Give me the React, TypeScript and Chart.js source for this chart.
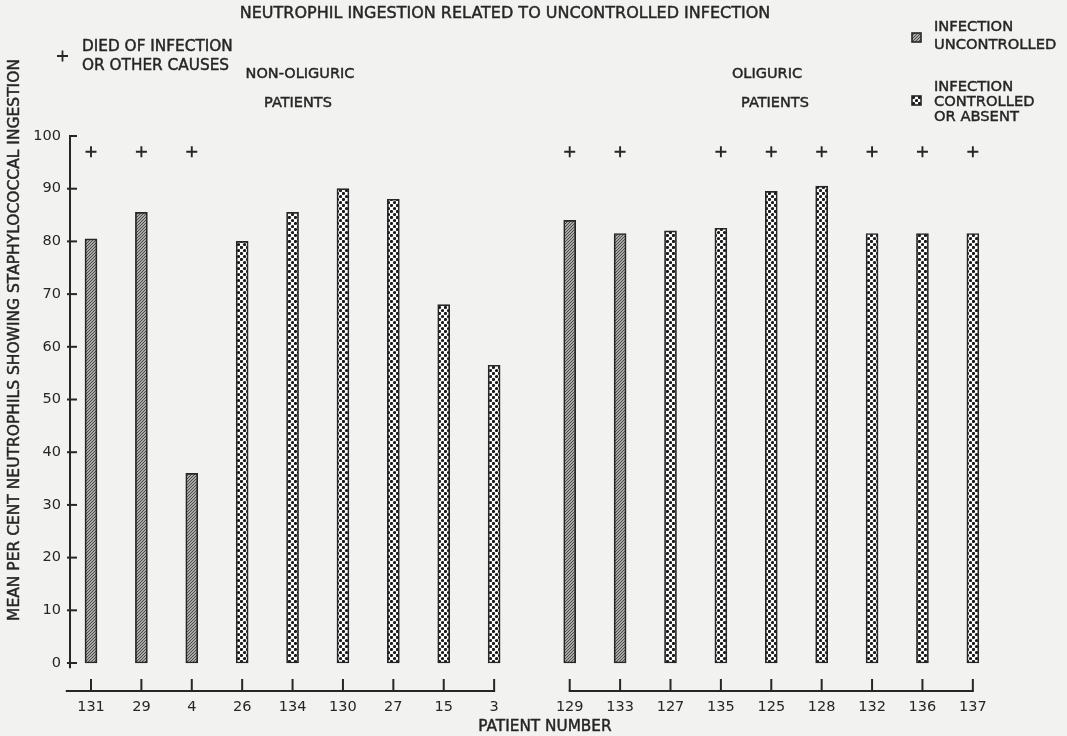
import { useEffect, useRef } from 'react';
import { Chart, registerables } from 'chart.js';

Chart.register(...registerables);

// ---- data ----
const nonOliguricPatients = ['131', '29', '4', '26', '134', '130', '27', '15', '3'];
const nonOliguricValues = [80.5, 85.5, 36, 80, 85.5, 90, 88, 68, 56.5];
const nonOliguricUncontrolled = [true, true, true, false, false, false, false, false, false];
const nonOliguricDied = [true, true, true, false, false, false, false, false, false];

const oliguricPatients = ['129', '133', '127', '135', '125', '128', '132', '136', '137'];
const oliguricValues = [84, 81.5, 82, 82.5, 89.5, 90.5, 81.5, 81.5, 81.5];
const oliguricUncontrolled = [true, true, false, false, false, false, false, false, false];
const oliguricDied = [true, true, false, true, true, true, true, true, true];

const diedMarkerValue = 97;
const yTickValues = [0, 10, 20, 30, 40, 50, 60, 70, 80, 90, 100];

const titleText = 'NEUTROPHIL INGESTION RELATED TO UNCONTROLLED INFECTION';
const yTitle = 'MEAN PER CENT NEUTROPHILS SHOWING STAPHYLOCOCCAL INGESTION';
const xTitle = 'PATIENT NUMBER';

const INK = '#262626';
const PAPER = '#f2f2f0';
const FONT = '"DejaVu Sans", sans-serif';

export default function App() {
  const ref = useRef<HTMLCanvasElement | null>(null);

  useEffect(() => {
    const canvas = ref.current;
    if (!canvas) return;
    const ctx0 = canvas.getContext('2d')!;

    const makeHatch = () => {
      const c = document.createElement('canvas');
      c.width = 3;
      c.height = 3;
      const g = c.getContext('2d')!;
      g.fillStyle = '#a9a9a7';
      g.fillRect(0, 0, 3, 3);
      g.strokeStyle = '#404040';
      g.lineWidth = 0.9;
      g.beginPath();
      g.moveTo(-1, 4);
      g.lineTo(4, -1);
      g.moveTo(2, 4);
      g.lineTo(4, 2);
      g.moveTo(-1, 1);
      g.lineTo(1, -1);
      g.stroke();
      return ctx0.createPattern(c, 'repeat')!;
    };
    const makeDots = () => {
      const c = document.createElement('canvas');
      c.width = 6;
      c.height = 6;
      const g = c.getContext('2d')!;
      g.fillStyle = '#ffffff';
      g.fillRect(0, 0, 6, 6);
      g.fillStyle = '#1a1a1a';
      g.beginPath();
      g.arc(1.5, 1.5, 1.6, 0, Math.PI * 2);
      g.fill();
      g.beginPath();
      g.arc(4.5, 4.5, 1.6, 0, Math.PI * 2);
      g.fill();
      return ctx0.createPattern(c, 'repeat')!;
    };
    const hatch = makeHatch();
    const dots = makeDots();

    const gap = 0.5;
    const patients = [...nonOliguricPatients, ...oliguricPatients];
    const positions = [
      ...nonOliguricPatients.map((_, i) => i),
      ...oliguricPatients.map((_, i) => nonOliguricPatients.length + gap + i),
    ];
    const values = [...nonOliguricValues, ...oliguricValues];
    const uncontrolled = [...nonOliguricUncontrolled, ...oliguricUncontrolled];
    const died = [...nonOliguricDied, ...oliguricDied];

    const barData = positions.map((p, i) => ({ x: p, y: values[i] }));
    const deathData = positions
      .map((p, i) => (died[i] ? { x: p, y: diedMarkerValue } : null))
      .filter(Boolean) as { x: number; y: number }[];

    const leftFirst = positions[0];
    const leftLast = positions[nonOliguricPatients.length - 1];
    const rightFirst = positions[nonOliguricPatients.length];
    const rightLast = positions[positions.length - 1];

    const text = (c: CanvasRenderingContext2D, s: string, x: number, y: number) => {
      c.fillText(s, x, y);
      c.strokeText(s, x, y);
    };

    const decor = {
      id: 'decor',
      beforeDraw(chart: any) {
        const c = chart.ctx;
        c.save();
        c.fillStyle = PAPER;
        c.fillRect(0, 0, chart.width, chart.height);
        c.restore();
      },
      afterDraw(chart: any) {
        const c: CanvasRenderingContext2D = chart.ctx;
        const x = chart.scales.x;
        const y = chart.scales.y;
        const area = chart.chartArea;
        c.save();
        c.strokeStyle = INK;
        c.fillStyle = INK;
        c.lineWidth = 2;
        c.lineCap = 'butt';

        // y axis line and ticks
        const ax = area.left;
        c.beginPath();
        c.moveTo(ax, y.getPixelForValue(100) - 1);
        c.lineTo(ax, y.getPixelForValue(-1));
        c.stroke();
        yTickValues.forEach((v) => {
          const py = y.getPixelForValue(v);
          c.beginPath();
          c.moveTo(v === 100 ? ax - 1 : ax - 3, py);
          c.lineTo(ax + 7, py);
          c.stroke();
        });

        // x axis segments and ticks
        const base = area.bottom - 1;
        c.beginPath();
        c.moveTo(x.getPixelForValue(leftFirst - 0.5), base);
        c.lineTo(x.getPixelForValue(leftLast) + 1, base);
        c.moveTo(x.getPixelForValue(rightFirst) - 1, base);
        c.lineTo(x.getPixelForValue(rightLast) + 1, base);
        c.stroke();
        positions.forEach((p) => {
          const px = x.getPixelForValue(p);
          c.beginPath();
          c.moveTo(px, base - 12);
          c.lineTo(px, base);
          c.stroke();
        });

        // texts
        c.lineWidth = 0.45;
        c.textBaseline = 'middle';
        c.textAlign = 'center';
        c.font = `16px ${FONT}`;
        text(c, titleText, 505, 14);

        c.font = `14.5px ${FONT}`;
        text(c, 'NON-OLIGURIC', 300, 74);
        text(c, 'PATIENTS', 298, 103);
        text(c, 'OLIGURIC', 767, 74);
        text(c, 'PATIENTS', 775, 103);
        c.font = `15.3px ${FONT}`;
        text(c, xTitle, 545, 727);

        c.textAlign = 'left';
        c.font = `15.3px ${FONT}`;
        text(c, 'DIED OF INFECTION', 82, 47);
        text(c, 'OR OTHER CAUSES', 82, 66);
        c.font = `14.7px ${FONT}`;
        text(c, 'INFECTION', 934, 27);
        text(c, 'UNCONTROLLED', 934, 45);
        text(c, 'INFECTION', 934, 87);
        text(c, 'CONTROLLED', 934, 102);
        text(c, 'OR ABSENT', 934, 117);

        // plus sign legend
        c.lineWidth = 1.8;
        c.beginPath();
        c.moveTo(57, 56);
        c.lineTo(68, 56);
        c.moveTo(62.5, 50.5);
        c.lineTo(62.5, 61.5);
        c.stroke();

        // legend swatches
        c.lineWidth = 1.6;
        c.fillStyle = hatch;
        c.fillRect(912, 33, 9, 9);
        c.strokeRect(912, 33, 9, 9);
        c.fillStyle = dots;
        c.fillRect(912, 96, 9, 9);
        c.strokeRect(912, 96, 9, 9);

        // y title
        c.fillStyle = INK;
        c.lineWidth = 0.45;
        c.font = `15.5px ${FONT}`;
        c.textAlign = 'center';
        c.translate(15, 340);
        c.rotate(-Math.PI / 2);
        text(c, yTitle, 0, 0);
        c.restore();
      },
    };

    const chart = new Chart(canvas, {
      type: 'bar',
      data: {
        datasets: [
          {
            type: 'bar',
            data: barData as any,
            backgroundColor: uncontrolled.map((u) => (u ? hatch : dots)) as any,
            borderColor: INK,
            borderWidth: 1.7,
            borderSkipped: false,
            barThickness: 12,
            grouped: false,
          } as any,
          {
            type: 'scatter',
            data: deathData as any,
            pointStyle: 'cross',
            radius: 5.5,
            borderColor: INK,
            borderWidth: 1.9,
            showLine: false,
          } as any,
        ],
      },
      options: {
        responsive: false,
        animation: false,
        events: [],
        layout: { padding: { top: 136, right: 74, bottom: 0, left: 0 } },
        plugins: { legend: { display: false }, tooltip: { enabled: false }, title: { display: false } },
        scales: {
          x: {
            type: 'linear',
            offset: false,
            min: -0.4167,
            max: 17.9,
            grid: { display: false, drawTicks: false, offset: false },
            border: { display: false },
            afterBuildTicks: (scale: any) => {
              scale.ticks = positions.map((p) => ({ value: p }));
            },
            afterFit: (scale: any) => {
              scale.height = 44;
            },
            ticks: {
              autoSkip: false,
              maxRotation: 0,
              padding: 7,
              color: INK,
              font: { family: FONT, size: 14.5 },
              callback: (_v: any, i: number) => patients[i],
            },
          },
          y: {
            type: 'linear',
            min: -5.5,
            max: 100,
            grid: { display: false, drawTicks: false },
            border: { display: false },
            afterBuildTicks: (scale: any) => {
              scale.ticks = yTickValues.map((v) => ({ value: v }));
            },
            afterFit: (scale: any) => {
              scale.width = 70;
            },
            ticks: {
              padding: 9,
              color: INK,
              font: { family: FONT, size: 14.5 },
              callback: (v: any) => String(v),
            },
          },
        },
      },
      plugins: [decor],
    });

    return () => chart.destroy();
  }, []);

  return (
    <div style={{ position: 'fixed', left: 0, top: 0, width: 1067, height: 736, background: PAPER }}>
      <canvas ref={ref} width={1067} height={736} style={{ display: 'block' }} />
    </div>
  );
}
